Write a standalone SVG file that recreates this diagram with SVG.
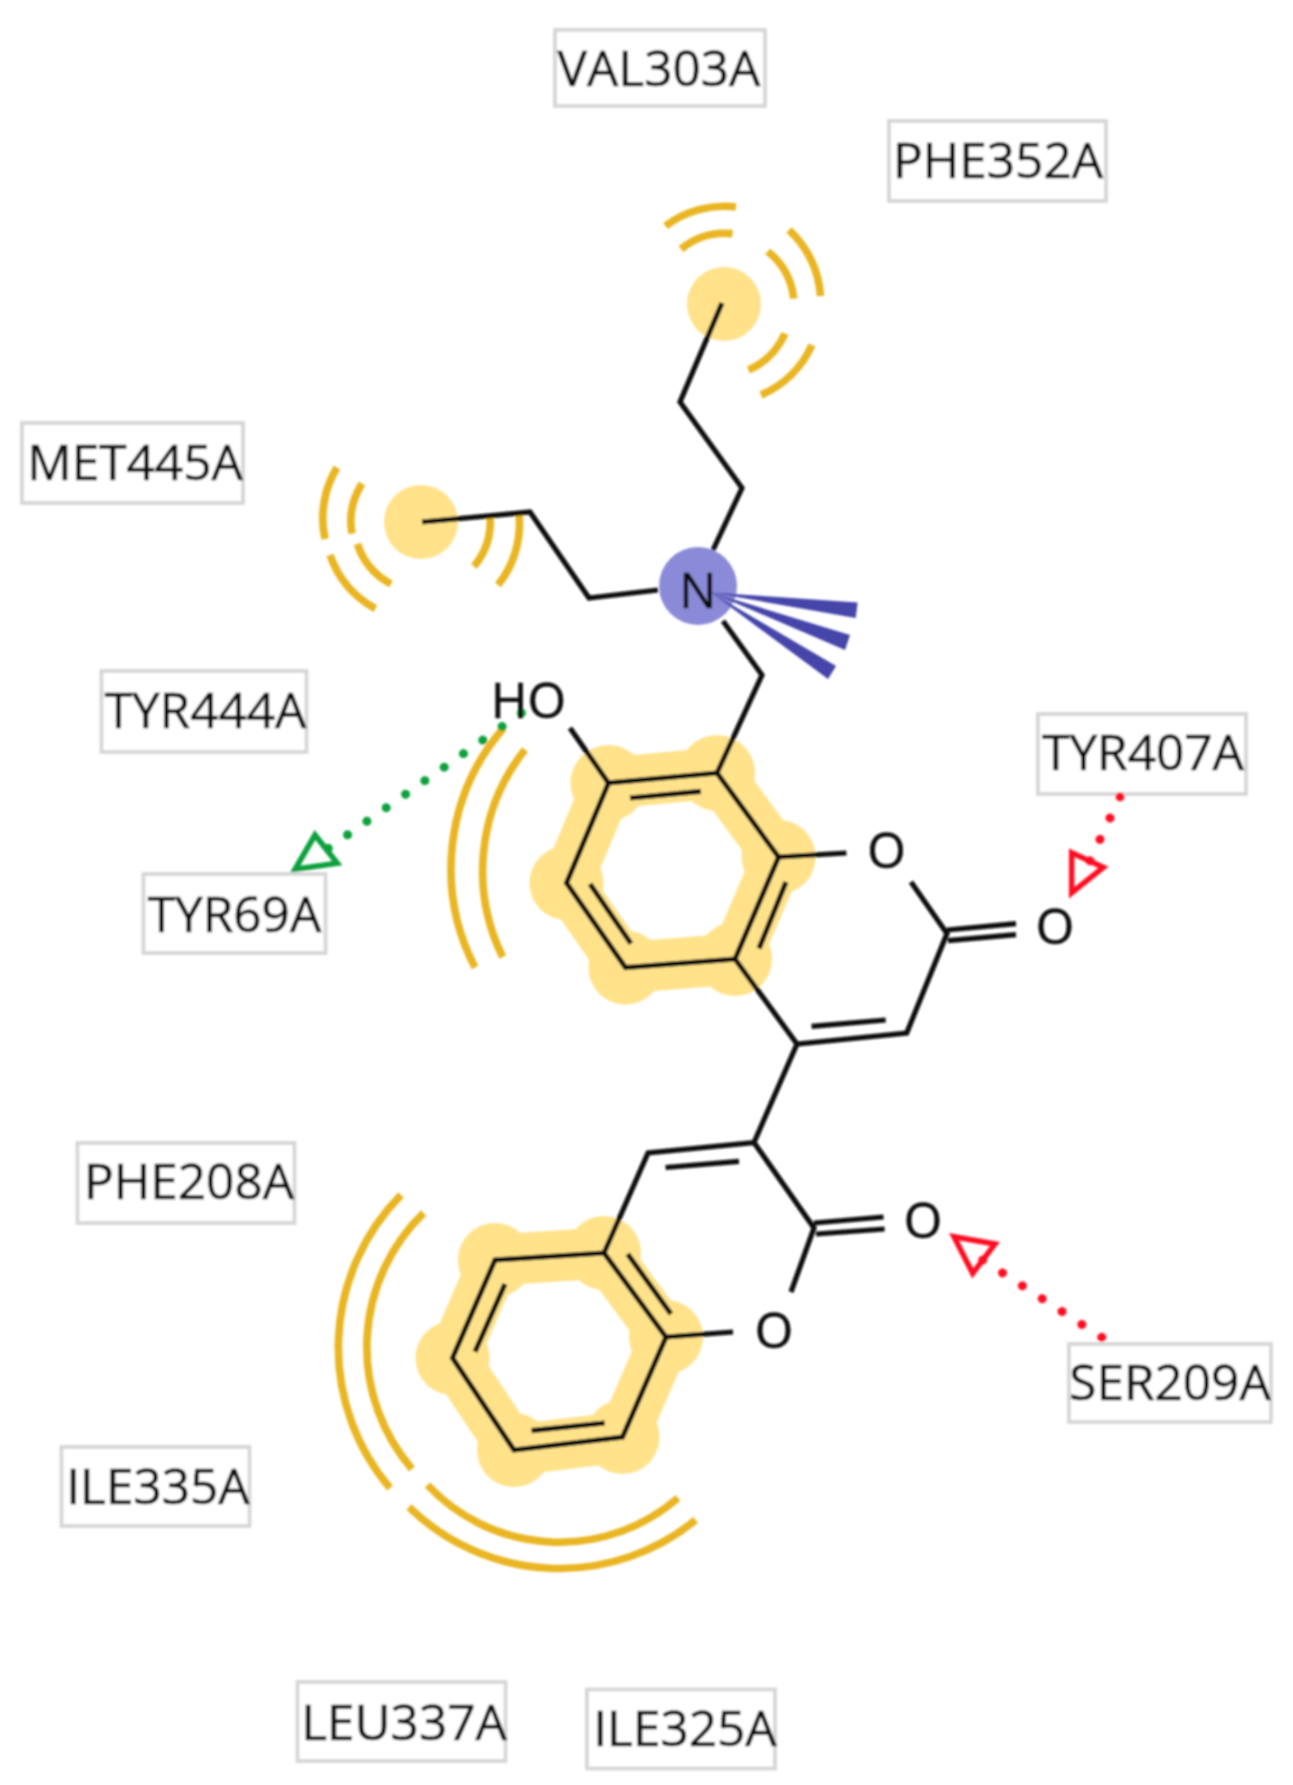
<svg xmlns="http://www.w3.org/2000/svg" width="1293" height="1785" viewBox="0 0 1293 1785">
<defs>
<filter id="soft" x="-5%" y="-5%" width="110%" height="110%"><feGaussianBlur stdDeviation="0.8"/></filter>
</defs>
<style>
text{font-family:"Open Sans","Noto Sans","DejaVu Sans",sans-serif;font-size:49.500px;fill:#111;stroke:#111;stroke-width:0.7;text-anchor:middle}
.box{fill:#fff;stroke:#d6d6d6;stroke-width:3.8}
.hl{fill:#ffe28a;stroke:none}
.band{fill:none;stroke:#ffe28a;stroke-width:51;stroke-linejoin:round}
.arc{fill:none;stroke:#e9b524;stroke-width:7.600;stroke-linecap:butt}
.bond{fill:none;stroke:#0c0c0c;stroke-width:5.200;stroke-linejoin:miter;stroke-linecap:butt}
.gd{fill:none;stroke:#08a03c;stroke-width:9;stroke-linecap:round;stroke-dasharray:0.01 23.570}
.rd{fill:none;stroke:#ff1020;stroke-width:9;stroke-linecap:round}
.gt{fill:none;stroke:#08a03c;stroke-width:5.500;stroke-linejoin:miter}
.rt{fill:none;stroke:#ff1020;stroke-width:5.500;stroke-linejoin:miter}
.wedge{fill:#4444aa}
</style>
<rect width="1293" height="1785" fill="#fff"/>
<g filter="url(#soft)">
<g id="highlights">
<circle class="hl" cx="724" cy="304" r="37"/>
<circle class="hl" cx="421" cy="522" r="37"/>
<path class="band" d="M717 773L608.500 783L566.500 883L625.500 967.500L735 959L778.600 857Z"/>
<circle class="hl" cx="717" cy="773" r="38"/><circle class="hl" cx="608.500" cy="783" r="38"/><circle class="hl" cx="566.500" cy="883" r="37"/><circle class="hl" cx="625.500" cy="967.500" r="37"/><circle class="hl" cx="735" cy="959" r="37"/><circle class="hl" cx="778.600" cy="857" r="37"/>
<path class="band" d="M604 1253L495 1260L452.500 1358L514 1450L622.500 1437L666 1337Z"/>
<circle class="hl" cx="604" cy="1253" r="37"/><circle class="hl" cx="495" cy="1260" r="37"/><circle class="hl" cx="452.500" cy="1358" r="37"/><circle class="hl" cx="514" cy="1450" r="37"/><circle class="hl" cx="622.500" cy="1437" r="37"/><circle class="hl" cx="666" cy="1337" r="37"/>
</g>
<g id="hydrophobic-arcs">
<path class="arc" d="M665.500 226A98 98 0 0 1 736 207"/>
<path class="arc" d="M681 249A70 70 0 0 1 732.500 233.600"/>
<path class="arc" d="M789 230A98 98 0 0 1 820.500 296"/>
<path class="arc" d="M767.700 251.400A70 70 0 0 1 793.700 298.600"/>
<path class="arc" d="M812 345A98 98 0 0 1 761 395"/>
<path class="arc" d="M785 333.600A70 70 0 0 1 748.500 370"/>
<path class="arc" d="M337 467.500A98 98 0 0 0 325 539"/>
<path class="arc" d="M362 483.600A70 70 0 0 0 352 533.600"/>
<path class="arc" d="M330 555A98 98 0 0 0 375.400 608.600"/>
<path class="arc" d="M357.400 544A70 70 0 0 0 391 584"/>
<path class="arc" d="M519 514A98 98 0 0 1 498 585"/>
<path class="arc" d="M490 516A70 70 0 0 1 474 566.400"/>
<path class="arc" d="M503.600 728A215 215 0 0 0 475 967.500"/>
<path class="arc" d="M525 749.600A195 195 0 0 0 502.700 957"/>
<path class="arc" d="M401 1195A217 217 0 0 0 390 1488"/>
<path class="arc" d="M423.600 1213A187 187 0 0 0 412 1469"/>
<path class="arc" d="M427.500 1485A181 181 0 0 0 678 1498"/>
<path class="arc" d="M409 1507A215 215 0 0 0 695.600 1520"/>
</g>
<g id="nitrogen-highlight"><circle cx="698" cy="586" r="39" fill="#8a8ad8"/>
<polygon class="wedge" points="711,592.500 857.600,602.500 855.700,618"/>
<polygon class="wedge" points="711,592.500 850,635 845,650"/>
<polygon class="wedge" points="711,592.500 836,666 828,679"/>
</g>
<g id="connectors">
<path class="bond" d="M722 303L680 402L742 488L713 550"/>
<path class="bond" d="M422 522L530 512L589 598L658 590"/>
<path class="bond" d="M723 621L762 675L717 773"/>
<path class="bond" d="M717 773L608.500 783L566.500 883L625.500 967.500L735 959L778.600 857Z"/>
<path class="bond" d="M630 798L701 791.400M590 884L631 943.600M786 882L759 948.600"/>
<path class="bond" d="M608.500 783L570 728M778.600 857L846.400 853M911 882L947 933.600L906.700 1033L797 1044L735 959"/>
<path class="bond" d="M811.600 1026.400L885.700 1020M947 930L1016 923.600M948 940.700L1016 934.600"/>
<path class="bond" d="M797 1044L754 1142.500L648 1153L604 1253M665.600 1167.500L739 1161.400M754 1142.500L814 1228L791 1292M814 1223L883.500 1217M816 1234L884.600 1229"/>
<path class="bond" d="M604 1253L495 1260L452.500 1358L514 1450L622.500 1437L666 1337Z"/>
<path class="bond" d="M627.600 1254L671 1314M505 1284L475 1351.700M531.500 1430.700L604.700 1423M666 1337L733 1332"/>
<path class="gd" d="M521.400 713L327.500 848.900"/>
<path class="gt" d="M315 835L295 869.300L337.300 863.300Z"/>
</g>
<g id="atoms">
<text x="528.500" y="717.500">HO</text>
<text x="698" y="608">N</text>
<text x="886.600" y="868">O</text>
<text x="1055" y="944">O</text>
<text x="923" y="1238">O</text>
<text x="774" y="1348">O</text>
</g>
<g id="VAL303A"><rect class="box" x="555" y="30" width="210" height="76"/><text x="659" y="86">VAL303A</text></g>
<g id="PHE352A"><rect class="box" x="889" y="121" width="217" height="80"/><text x="998" y="178">PHE352A</text></g>
<g id="MET445A"><rect class="box" x="22" y="423" width="221" height="80"/><text x="135" y="480">MET445A</text></g>
<g id="TYR444A"><rect class="box" x="101.500" y="671" width="205" height="81"/><text x="205.500" y="728">TYR444A</text></g>
<g id="TYR407A"><rect class="box" x="1038" y="714" width="208" height="80"/><text x="1143" y="770">TYR407A</text></g>
<g id="TYR69A"><rect class="box" x="143.500" y="874" width="182" height="79"/><text x="234.500" y="932">TYR69A</text></g>
<g id="PHE208A"><rect class="box" x="77.500" y="1143" width="217" height="80"/><text x="189" y="1199">PHE208A</text></g>
<g id="SER209A"><rect class="box" x="1069" y="1344" width="202" height="78"/><text x="1170" y="1400">SER209A</text></g>
<g id="ILE335A"><rect class="box" x="61.500" y="1447" width="188" height="79"/><text x="158" y="1504">ILE335A</text></g>
<g id="LEU337A"><rect class="box" x="297.500" y="1682" width="208" height="79"/><text x="404" y="1740">LEU337A</text></g>
<g id="ILE325A"><rect class="box" x="587" y="1689.500" width="188" height="79"/><text x="685" y="1746">ILE325A</text></g>
<g id="red-contacts">
<path class="rd" stroke-dasharray="0.01 23.560" d="M1120 796.700L1089.700 861.300"/>
<path class="rt" d="M1071.700 852.700L1071.700 892.700L1103.300 867.300Z"/>
<path class="rd" stroke-dasharray="0.01 23.640" d="M1101.700 1337.300L982 1259.600"/>
<path class="rt" d="M954 1236.700L995 1244L972.700 1273.300Z"/>
</g>
</g>
</svg>
